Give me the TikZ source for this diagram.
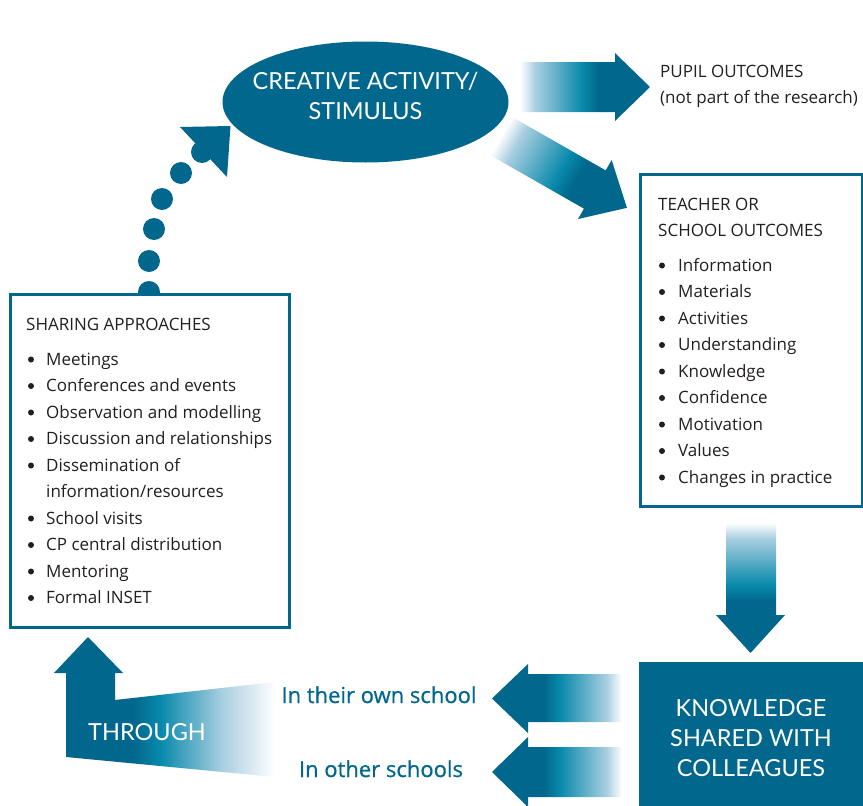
\documentclass[tikz,border=0pt]{standalone}
\usepackage{fontspec}
\setmainfont{Open Sans}
\newfontfamily\headfont{Lato}
\newfontfamily\bluefont[FakeBold=0.7]{Open Sans}
\usetikzlibrary{shapes.geometric}
\definecolor{darkb}{HTML}{02678D}
\definecolor{midb}{HTML}{0789AB}
\definecolor{lightb}{HTML}{A8CEE0}
\definecolor{textc}{HTML}{231F20}
\pgfdeclarehorizontalshading{fadearrow}{100bp}{color(0bp)=(white); color(25bp)=(white); color(31bp)=(lightb); color(49bp)=(midb); color(55bp)=(darkb); color(100bp)=(darkb)}
\pgfdeclarehorizontalshading{fadethrough}{100bp}{color(0bp)=(white); color(25bp)=(white); color(37bp)=(lightb); color(51bp)=(midb); color(57bp)=(darkb); color(100bp)=(darkb)}
\tikzset{
  headtxt/.style={text=white, inner sep=0, font=\headfont\fontsize{23.5}{30}\selectfont},
  bluetxt/.style={text=darkb, inner sep=0, anchor=base, font=\bluefont\fontsize{22}{26}\selectfont},
  bodytxt/.style={text=textc, inner sep=0, anchor=base west, font=\fontsize{17}{20}\selectfont},
  bulletdot/.style={circle, fill=textc, inner sep=0, minimum size=6},
  framebox/.style={draw=darkb, line width=2.6, fill=white, inner sep=0, anchor=north west},
  dotstep/.style={circle, fill=darkb, inner sep=0, minimum size=22},
  blockarrow/.style={shading=fadearrow},
}
\begin{document}
\begin{tikzpicture}[x=1pt,y=-1pt]
\useasboundingbox (0,0) rectangle (863,806);
\fill[white] (0,0) rectangle (863,806);

% arrows from the activity
\shade[blockarrow] (520,62) -- (615,62) -- (615,53) -- (650,87) -- (615,121) -- (615,112) -- (520,112) -- cycle;
\begin{scope}[transform canvas={shift={(501,136)}, rotate=-29.7}]
\shade[blockarrow] (0,-22) -- (108,-22) -- (108,-34) -- (145,0) -- (108,34) -- (108,22) -- (0,22) -- cycle;
\end{scope}

% activity ellipse
\node[ellipse, fill=darkb, minimum width=286, minimum height=121, inner sep=0] (act) at (365.5,102) {};
\node[headtxt, align=center] (acttxt) at (365.5,96) {CREATIVE ACTIVITY/\\STIMULUS};

% pupil outcomes
\node[bodytxt] (pupil1) at (660,77) {PUPIL OUTCOMES};
\node[bodytxt] (pupil2) at (660,103) {(not part of the research)};

% teacher box
\node[framebox, minimum width=222, minimum height=332] (teach) at (639,173) {};
\node[bodytxt] (th1) at (658,210) {TEACHER OR};
\node[bodytxt] (th2) at (658,236) {SCHOOL OUTCOMES};
\foreach \t [count=\i] in {Information, Materials, Activities, Understanding, Knowledge, Confidence, Motivation, Values, Changes in practice}{
  \node[bulletdot] (tb\i) at (662,{271+26.5*(\i-1)-5.5}) {};
  \node[bodytxt] (ti\i) at (678,{271+26.5*(\i-1)}) {\t};
}

% down arrow
\shade[blockarrow, shading angle=-90] (726,523) -- (776,523) -- (776,615) -- (785,615) -- (750.5,653) -- (716,615) -- (726,615) -- cycle;

% knowledge box
\node[fill=darkb, minimum width=224, minimum height=145, inner sep=0, anchor=north west] (know) at (639,662) {};
\node[headtxt, align=center] (knowtxt) at (751,738) {KNOWLEDGE\\SHARED WITH\\COLLEAGUES};

% left arrows
\shade[blockarrow, shading angle=180] (622,674) -- (528,674) -- (528,664) -- (492,698.5) -- (528,733) -- (528,722) -- (622,722) -- cycle;
\shade[blockarrow, shading angle=180] (622,747) -- (528,747) -- (528,737) -- (492,772) -- (528,807) -- (528,797) -- (622,797) -- cycle;
\node[bluetxt] (own) at (379,703) {In their own school};
\node[bluetxt] (other) at (381,777) {In other schools};

% through arrow
\shade[shading=fadethrough, shading angle=180] (88,637) -- (123,673) -- (115,673) -- (115,700) -- (275,682) -- (275,777) -- (66,757) -- (66,673) -- (54,673) -- cycle;
\node[headtxt] (through) at (147,732) {THROUGH};

% dotted arrow to the activity
\foreach \p [count=\i] in {(149,292),(149,261),(154,229),(162,199),(181,173),(202,152)}{
  \node[dotstep] (d\i) at \p {};
}
\fill[darkb] (180,127) -- (230.5,126) -- (227,177) -- cycle;

% sharing box
\node[framebox, minimum width=279, minimum height=333] (share) at (9,293) {};
\node[bodytxt] (sh) at (26,330) {SHARING APPROACHES};
\foreach \t/\b [count=\i] in {Meetings/1, Conferences and events/1, Observation and modelling/1, Discussion and relationships/1, Dissemination of/1, {information/resources}/0, School visits/1, CP central distribution/1, Mentoring/1, Formal INSET/1}{
  \ifnum\b=1 \node[bulletdot] (sb\i) at (31,{365+26.5*(\i-1)-5.5}) {};\fi
  \node[bodytxt] (si\i) at (46,{365+26.5*(\i-1)}) {\t};
}
\end{tikzpicture}
\end{document}
